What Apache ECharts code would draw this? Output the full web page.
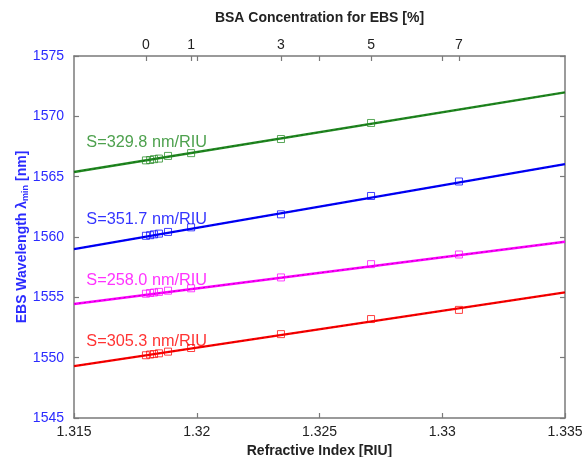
<!DOCTYPE html>
<html>
<head>
<meta charset="utf-8">
<script src="https://cdn.jsdelivr.net/npm/echarts@6/dist/echarts.min.js"></script>
<style>
  html, body { margin: 0; padding: 0; background: #fff; }
  #chart { width: 586px; height: 457px; }
</style>
</head>
<body>
<div id="chart"></div>
<script>
// Refractive index of each measured sample
const refractiveIndex = [1.31793, 1.31810, 1.31826, 1.31846, 1.31883, 1.31977, 1.32343, 1.32710, 1.33068];

// Measured EBS wavelength minima [nm] for the four resonances
const greenValues   = [1566.35, 1566.38, 1566.45, 1566.50, 1566.72, 1566.95, 1568.12, 1569.45];
const blueValues    = [1560.10, 1560.15, 1560.22, 1560.28, 1560.42, 1560.80, 1561.88, 1563.40, 1564.60];
const magentaValues = [1555.30, 1555.36, 1555.40, 1555.45, 1555.55, 1555.75, 1556.65, 1557.75, 1558.55];
const redValues     = [1550.20, 1550.26, 1550.30, 1550.36, 1550.50, 1550.80, 1551.95, 1553.20, 1553.96];

// Linear fits: sensitivity [nm/RIU] and fitted wavelength at n = 1.315
const sensitivities = [329.8, 351.7, 258.0, 305.3];
const fitAtStart    = [1565.39, 1559.00, 1554.45, 1549.30];

// Top axis: BSA concentration [%] and the refractive index it corresponds to
const bsaConcentration = [0, 1, 3, 5, 7];
const bsaIndex         = [1.31793, 1.31977, 1.32343, 1.32710, 1.33068];

// Bottom / left tick labels
const xTicks = [1.315, 1.32, 1.325, 1.33, 1.335];
const yTicks = [1545, 1550, 1555, 1560, 1565, 1570, 1575];

// Where each sensitivity label sits (data coordinates)
const labelIndex = [1.3155, 1.3155, 1.3155, 1.3155];
const labelWave  = [1567.8, 1561.45, 1556.4, 1551.35];

const colors = ['#228a22', '#0000ff', '#ff00ff', '#ff0000'];
const fitDots = ['#0b4d0b', '#00008a', '#8a008a', '#8a0000'];
const measured = [greenValues, blueValues, magentaValues, redValues];

const xMin = xTicks[0], xMax = xTicks[xTicks.length - 1];
const yMin = yTicks[0], yMax = yTicks[yTicks.length - 1];
const FONT = 'Liberation Sans, Arial, sans-serif';

const series = [];
measured.forEach((vals, i) => {
  const fit = [
    [xMin, fitAtStart[i]],
    [xMax, fitAtStart[i] + sensitivities[i] * (xMax - xMin)]
  ];
  series.push({
    type: 'line', data: fit, symbol: 'none', silent: true, z: 2,
    lineStyle: { color: colors[i], width: 2.4 }
  });
  series.push({
    type: 'line', data: fit, symbol: 'none', silent: true, z: 3,
    lineStyle: { color: fitDots[i], width: 1, type: [2, 3], opacity: 0.6 }
  });
  series.push({
    type: 'scatter', z: 4,
    data: vals.map((v, k) => [refractiveIndex[k], v]),
    symbol: 'rect', symbolSize: 7,
    itemStyle: { color: 'rgba(255,255,255,0)', borderColor: colors[i], borderWidth: 1, opacity: 0.75 }
  });
  series.push({
    type: 'scatter', z: 5, symbolSize: 0, silent: true,
    data: [[labelIndex[i], labelWave[i]]],
    label: {
      show: true, position: 'right', distance: 0,
      formatter: 'S=' + sensitivities[i].toFixed(1) + ' nm/RIU',
      color: colors[i], fontSize: 16.3, fontFamily: FONT
    }
  });
});

const axisLine = { show: true, lineStyle: { color: '#7a7a7a', width: 1.5 } };
const tickStyle = { color: '#7a7a7a', width: 1.2 };
const fmtIdx = v => String(+(+v).toFixed(3));

const option = {
  animation: false,
  backgroundColor: '#fff',
  grid: { left: 74, right: 21, top: 56, bottom: 39, containLabel: false, outerBoundsMode: 'none' },
  xAxis: [
    {
      type: 'value', position: 'bottom', min: xMin, max: xMax, interval: 0.005,
      axisLine: axisLine, splitLine: { show: false },
      axisTick: { inside: true, length: 5, lineStyle: tickStyle },
      axisLabel: { color: '#222', fontSize: 14, margin: 7, formatter: fmtIdx, fontFamily: FONT },
      name: 'Refractive Index [RIU]', nameLocation: 'middle', nameGap: 24,
      nameTextStyle: { color: '#222', fontSize: 14, fontWeight: 'bold', fontFamily: FONT }
    },
    {
      type: 'value', position: 'top', min: xMin, max: xMax,
      axisLine: axisLine, splitLine: { show: false },
      axisTick: { inside: true, length: 5, lineStyle: tickStyle,
                  customValues: bsaIndex.concat(xTicks.slice(1, -1)) },
      axisLabel: {
        color: '#222', fontSize: 14, margin: 4, fontFamily: FONT,
        customValues: bsaIndex,
        formatter: v => {
          const k = bsaIndex.findIndex(b => Math.abs(b - v) < 1e-7);
          return k >= 0 ? String(bsaConcentration[k]) : '';
        }
      },
      name: 'BSA Concentration for EBS [%]', nameLocation: 'middle', nameGap: 31,
      nameTextStyle: { color: '#222', fontSize: 14, fontWeight: 'bold', fontFamily: FONT }
    }
  ],
  yAxis: [
    {
      type: 'value', position: 'left', min: yMin, max: yMax, interval: 5,
      axisLine: axisLine, splitLine: { show: false },
      axisTick: { inside: true, length: 5, lineStyle: tickStyle },
      axisLabel: { color: '#2b2bff', fontSize: 14, margin: 10, fontFamily: FONT,
                   formatter: v => String(v) },
      name: '{a|EBS Wavelength λ}{s|min}{a| [nm]}',
      nameLocation: 'middle', nameGap: 44, nameRotate: 90, nameMoveOverlap: false,
      nameTextStyle: {
        rich: {
          a: { color: '#2b2bff', fontSize: 14, fontWeight: 'bold', fontFamily: FONT },
          s: { color: '#2b2bff', fontSize: 9, fontWeight: 'bold', verticalAlign: 'bottom',
               padding: [6, 0, 0, 0], fontFamily: FONT }
        }
      }
    },
    {
      type: 'value', position: 'right', min: yMin, max: yMax, interval: 5,
      axisLine: axisLine, splitLine: { show: false },
      axisTick: { inside: true, length: 5, lineStyle: tickStyle },
      axisLabel: { show: false }
    }
  ],
  series: series
};

const chart = echarts.init(document.getElementById('chart'), null, { renderer: 'canvas' });
chart.setOption(option);
</script>
</body>
</html>
